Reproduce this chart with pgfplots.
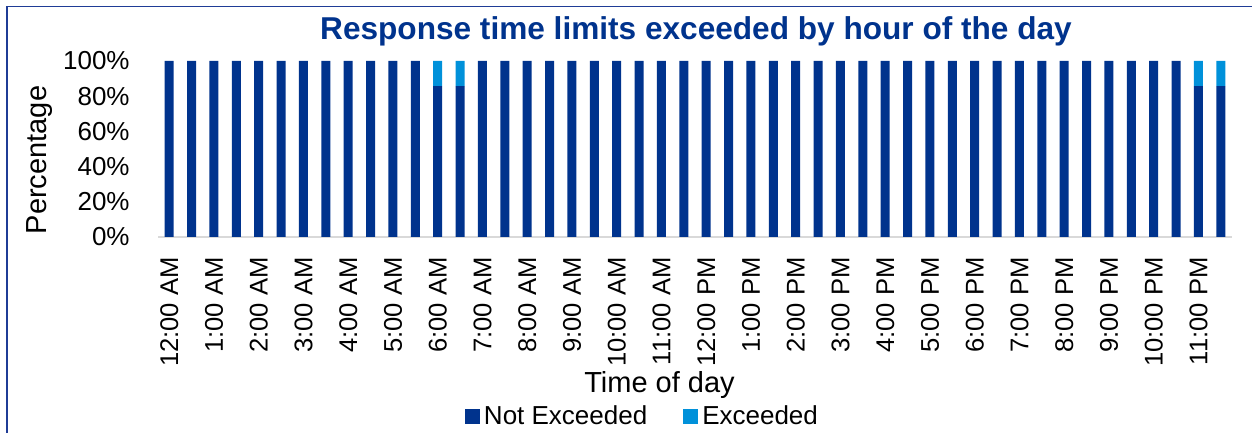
\documentclass[border=0pt]{standalone}
\usepackage{fontspec}
\setmainfont{Liberation Sans}
\usepackage{pgfplots}
\pgfplotsset{compat=1.18}
\definecolor{kdark}{HTML}{00338D}
\definecolor{klight}{HTML}{0091DA}
\definecolor{kframe}{HTML}{1F3C96}

% values in percent, one row per half hour (0 = 12:00 AM ... 47 = 11:30 PM)
\pgfplotstableread{
slot notexc exc
0  100 0
1  100 0
2  100 0
3  100 0
4  100 0
5  100 0
6  100 0
7  100 0
8  100 0
9  100 0
10 100 0
11 100 0
12 85.7 14.3
13 85.7 14.3
14 100 0
15 100 0
16 100 0
17 100 0
18 100 0
19 100 0
20 100 0
21 100 0
22 100 0
23 100 0
24 100 0
25 100 0
26 100 0
27 100 0
28 100 0
29 100 0
30 100 0
31 100 0
32 100 0
33 100 0
34 100 0
35 100 0
36 100 0
37 100 0
38 100 0
39 100 0
40 100 0
41 100 0
42 100 0
43 100 0
44 100 0
45 100 0
46 85.7 14.3
47 85.7 14.3
}\hourdata

\begin{document}
\begin{tikzpicture}
\useasboundingbox (0,0) rectangle (626bp,216.5bp);
% frame
\draw[kframe, line width=0.5bp] (3bp,213bp) -- (626bp,213bp);
\draw[kframe, line width=1.2bp] (3.4bp,213.25bp) -- (3.4bp,0);
\node[anchor=base, font=\fontsize{15.8bp}{18bp}\selectfont\bfseries, text=kdark, inner sep=0pt]
  at (348bp,196.5bp) {Response time limits exceeded by hour of the day};
\begin{axis}[
  at={(79bp,98bp)}, anchor=south west,
  scale only axis,
  width=537bp, height=88bp,
  ybar stacked, bar width=0.4,
  xmin=-0.5, xmax=47.5,
  ymin=0, ymax=100,
  axis x line*=bottom, axis y line*=left,
  x axis line style={draw=black!15, line width=0.8bp},
  y axis line style={draw=none},
  major tick length=0,
  xtick={0,2,...,46},
  xticklabels={12:00 AM,1:00 AM,2:00 AM,3:00 AM,4:00 AM,5:00 AM,6:00 AM,7:00 AM,8:00 AM,9:00 AM,10:00 AM,11:00 AM,12:00 PM,1:00 PM,2:00 PM,3:00 PM,4:00 PM,5:00 PM,6:00 PM,7:00 PM,8:00 PM,9:00 PM,10:00 PM,11:00 PM},
  x tick label style={yshift=-10bp, rotate=90, anchor=east, inner sep=0pt, font=\fontsize{12.8bp}{15bp}\selectfont},
  ytick={0,20,...,100},
  yticklabels={0\%,20\%,40\%,60\%,80\%,100\%},
  y tick label style={anchor=east, inner sep=0pt, xshift=-14bp, font=\fontsize{13bp}{15bp}\selectfont},
  xlabel={Time of day},
  xlabel style={at={(axis description cs:0.467,-0.885)}, anchor=base, inner sep=0pt, font=\fontsize{14.5bp}{17bp}\selectfont},
  ylabel={Percentage},
  ylabel style={at={(axis description cs:-0.11,0.4375)}, anchor=center, inner sep=0pt, font=\fontsize{14.5bp}{17bp}\selectfont},
  legend style={at={(axis description cs:0.452,-1.02)}, anchor=center, draw=none, fill=none,
    legend columns=-1, font=\fontsize{13bp}{15bp}\selectfont,
    /tikz/every even column/.append style={column sep=16bp}},
  legend image code/.code={\fill[#1] (0bp,-3.75bp) rectangle (7.5bp,3.75bp);},
  legend cell align=left,
]
\addplot[fill=kdark, draw=none] table[x=slot, y=notexc] {\hourdata};
\addplot[fill=klight, draw=none] table[x=slot, y=exc] {\hourdata};
\legend{Not Exceeded, Exceeded}
\end{axis}
\end{tikzpicture}
\end{document}
